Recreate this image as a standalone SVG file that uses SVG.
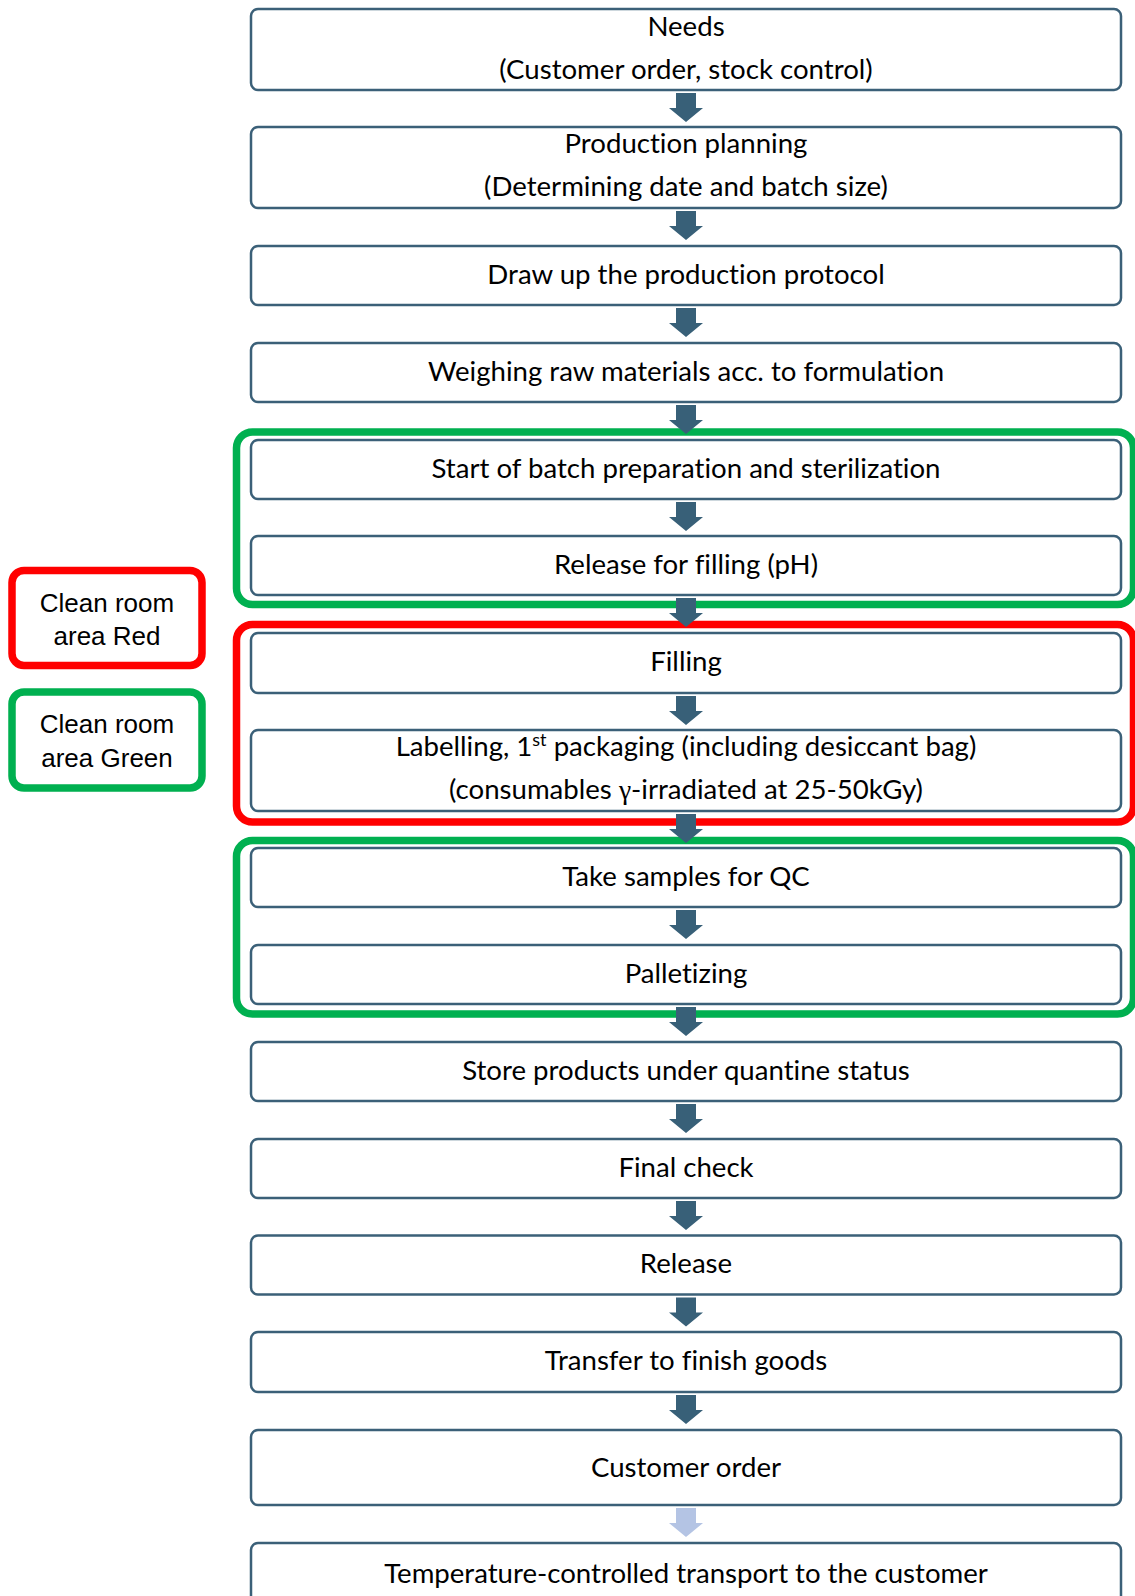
<svg xmlns="http://www.w3.org/2000/svg" width="1135" height="1596" viewBox="0 0 1135 1596">
<style>
.box{fill:#fff;stroke:#3B6078;stroke-width:2.5}
.t{font-family:Lato,"Noto Sans",sans-serif;font-size:27.6px;fill:#000;text-anchor:middle;font-variant-ligatures:none;font-feature-settings:"liga" 0}
.lg{font-family:"Liberation Sans",Arial,sans-serif;font-size:26px;fill:#000;text-anchor:middle}
.fr{fill:none;stroke-width:7.5}
.red{stroke:#FF0000}
.green{stroke:#00B050}
.arr{fill:#386078}
.arr2{fill:#B4C4E4}
</style>
<defs>
<path id="ar" d="M676,0 h20 v15 h7 l-17,14 l-17,-14 h7 z"/>
</defs>
<rect width="1135" height="1596" fill="#fff"/>

<g id="legend-red"><rect class="fr red" x="12" y="570.5" width="190" height="95" rx="12"/><text class="lg" x="107" y="612">Clean room</text><text class="lg" x="107" y="645">area Red</text></g>
<g id="legend-green"><rect class="fr green" x="12" y="692" width="190" height="96" rx="12"/><text class="lg" x="107" y="733">Clean room</text><text class="lg" x="107" y="767">area Green</text></g>

<g id="n1"><rect class="box" x="251" y="9" width="870" height="81" rx="7"/><text class="t" x="686" y="35.5">Needs</text><text class="t" x="686" y="78.5">(Customer order, stock control)</text></g>
<g id="n2"><rect class="box" x="251" y="127" width="870" height="81" rx="7"/><text class="t" x="686" y="152.5">Production planning</text><text class="t" x="686" y="195.5">(Determining date and batch size)</text></g>
<g id="n3"><rect class="box" x="251" y="246" width="870" height="59" rx="7"/><text class="t" x="686" y="283.5">Draw up the production protocol</text></g>
<g id="n4"><rect class="box" x="251" y="343" width="870" height="59" rx="7"/><text class="t" x="686" y="380.5">Weighing raw materials acc. to formulation</text></g>

<g id="zone-green-1"><rect class="fr green" x="236.5" y="432" width="897" height="172.5" rx="16"/></g>
<g id="n5"><rect class="box" x="251" y="440" width="870" height="59" rx="7"/><text class="t" x="686" y="477.5">Start of batch preparation and sterilization</text></g>
<g id="n6"><rect class="box" x="251" y="536" width="870" height="59" rx="7"/><text class="t" x="686" y="573.5">Release for filling (pH)</text></g>

<g id="zone-red"><rect class="fr red" x="236.5" y="624.5" width="897" height="197.5" rx="16"/></g>
<g id="n7"><rect class="box" x="251" y="633" width="870" height="60" rx="7"/><text class="t" x="686" y="670.5">Filling</text></g>
<g id="n8"><rect class="box" x="251" y="730" width="870" height="81" rx="7"/><text class="t" x="686" y="755.5">Labelling, 1<tspan font-size="18" dy="-10">st</tspan><tspan dy="10"> packaging (including desiccant bag)</tspan></text><text class="t" x="686" y="798.5">(consumables <tspan font-family="'Liberation Serif',serif">γ</tspan>-irradiated at 25-50kGy)</text></g>

<g id="zone-green-2"><rect class="fr green" x="236.5" y="840.5" width="897" height="173.5" rx="16"/></g>
<g id="n9"><rect class="box" x="251" y="848" width="870" height="59" rx="7"/><text class="t" x="686" y="885.5">Take samples for QC</text></g>
<g id="n10"><rect class="box" x="251" y="945" width="870" height="59" rx="7"/><text class="t" x="686" y="982.5">Palletizing</text></g>
<g id="n11"><rect class="box" x="251" y="1042" width="870" height="59" rx="7"/><text class="t" x="686" y="1079.5">Store products under quantine status</text></g>
<g id="n12"><rect class="box" x="251" y="1139" width="870" height="59" rx="7"/><text class="t" x="686" y="1176.5">Final check</text></g>
<g id="n13"><rect class="box" x="251" y="1235.5" width="870" height="59" rx="7"/><text class="t" x="686" y="1273">Release</text></g>
<g id="n14"><rect class="box" x="251" y="1332" width="870" height="60" rx="7"/><text class="t" x="686" y="1369.5">Transfer to finish goods</text></g>
<g id="n15"><rect class="box" x="251" y="1430" width="870" height="75" rx="7"/><text class="t" x="686" y="1476.5">Customer order</text></g>
<g id="n16"><rect class="box" x="251" y="1543" width="870" height="75" rx="7"/><text class="t" x="686" y="1582.5">Temperature-controlled transport to the customer</text></g>

<g id="connectors">
<use href="#ar" class="arr" y="93"/>
<use href="#ar" class="arr" y="211"/>
<use href="#ar" class="arr" y="308"/>
<use href="#ar" class="arr" y="405"/>
<use href="#ar" class="arr" y="502"/>
<use href="#ar" class="arr" y="598"/>
<use href="#ar" class="arr" y="696"/>
<use href="#ar" class="arr" y="814"/>
<use href="#ar" class="arr" y="910"/>
<use href="#ar" class="arr" y="1007"/>
<use href="#ar" class="arr" y="1104"/>
<use href="#ar" class="arr" y="1201"/>
<use href="#ar" class="arr" y="1297.5"/>
<use href="#ar" class="arr" y="1395"/>
<use href="#ar" class="arr2" y="1508"/>
</g>
</svg>
